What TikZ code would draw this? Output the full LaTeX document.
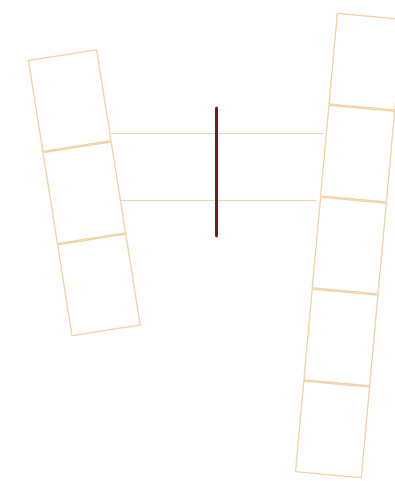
\documentclass[tikz,border=0pt]{standalone}
\usepackage{tikz}
\usetikzlibrary{calc}
\definecolor{tan}{RGB}{240,212,166}
\definecolor{maroon}{RGB}{110,28,28}

\begin{document}
\begin{tikzpicture}[
    x=1pt, y=-1pt,
    cell/.style={draw=tan, line width=1.3pt, inner sep=0pt, minimum width=69pt, minimum height=92pt},
    rcell/.style={cell, minimum width=66pt, minimum height=91pt, rotate=-5.2},
    lcell/.style={cell, rotate=9},
    link/.style={draw=tan, line width=1.3pt},
    bar/.style={draw=maroon, line width=3.2pt, line cap=round}
]
\useasboundingbox (0,0) rectangle (395,481);
\clip (0,0) rectangle (395,481);

% left column
\node[lcell, anchor=north west] (l1) at (27.7,60) {};
\node[lcell, anchor=north] (l2) at (l1.south) {};
\node[lcell, anchor=north] (l3) at (l2.south) {};

% right column
\node[rcell, anchor=north west] (r1) at (336.7,12.7) {};
\node[rcell, anchor=north] (r2) at (r1.south) {};
\node[rcell, anchor=north] (r3) at (r2.south) {};
\node[rcell, anchor=north] (r4) at (r3.south) {};
\node[rcell, anchor=north] (r5) at (r4.south) {};

% links between the columns
\coordinate (h1) at ($(l1.north east)!0.92!(l1.south east)$);
\coordinate (h2) at ($(l2.north east)!0.646!(l2.south east)$);
\draw[link] (h1) -- (h1 -| r2.west);
\draw[link] (h2) -- (h2 -| r3.west);

% middle bar
\coordinate (bartop) at (216.7,108);
\coordinate (barbot) at (216.7,236);
\draw[bar] (bartop) -- (barbot);
\end{tikzpicture}
\end{document}
